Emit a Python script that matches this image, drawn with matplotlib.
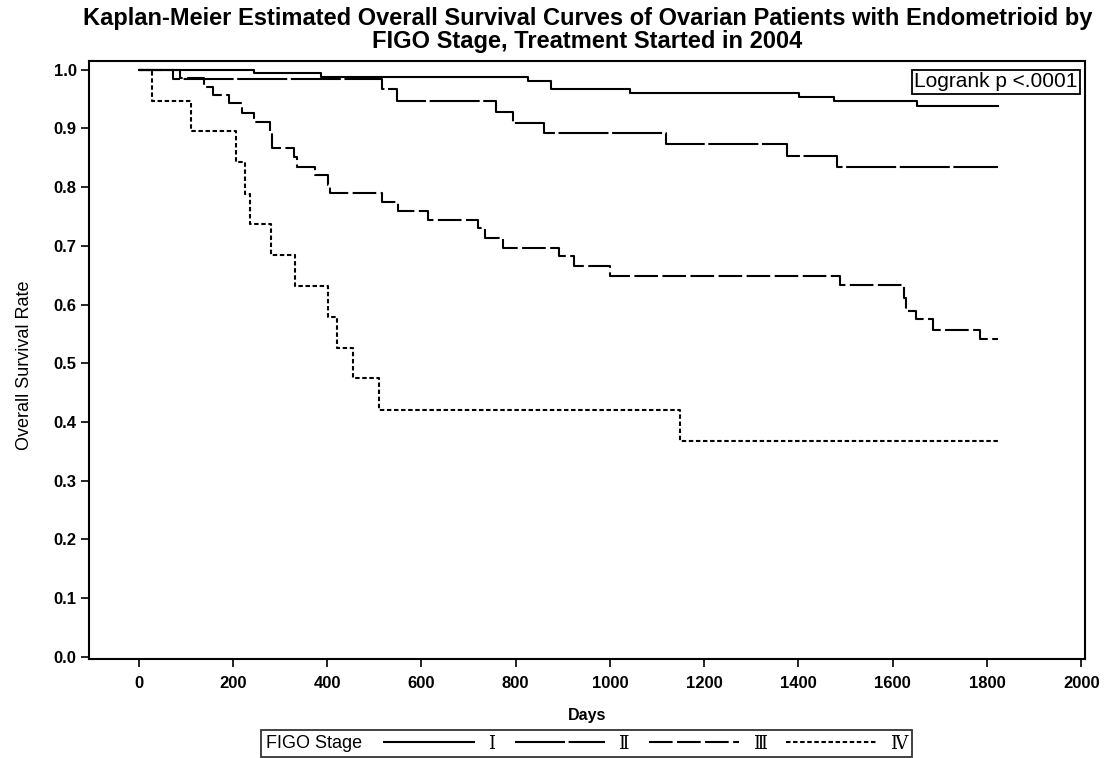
import matplotlib
matplotlib.use("Agg")
from matplotlib import pyplot as plt
from matplotlib.offsetbox import HPacker

plt.rcParams['font.family'] = ['Liberation Sans', 'DejaVu Sans']
plt.rcParams['lines.scale_dashes'] = False

# Kaplan-Meier step data (days at which survival changes, survival after step)
stage1_days = [0, 245, 387, 827, 875, 1043, 1401, 1475, 1652, 1824]
stage1_surv = [1.0, 0.994, 0.988, 0.981, 0.967, 0.961, 0.953, 0.946, 0.939, 0.939]

stage2_days = [0, 73, 516, 548, 759, 794, 860, 1119, 1376, 1481, 1824]
stage2_surv = [1.0, 0.985, 0.967, 0.947, 0.928, 0.910, 0.893, 0.873, 0.853, 0.834, 0.834]

stage3_days = [0, 88, 138, 159, 193, 219, 245, 278, 283, 329, 336, 375, 403, 407,
               516, 551, 615, 721, 734, 774, 891, 923, 1000, 1488, 1624, 1628,
               1649, 1685, 1785, 1824]
stage3_surv = [1.0, 0.986, 0.971, 0.957, 0.943, 0.926, 0.911, 0.896, 0.866, 0.852,
               0.835, 0.821, 0.804, 0.790, 0.775, 0.759, 0.744, 0.730, 0.714, 0.697,
               0.683, 0.666, 0.649, 0.633, 0.611, 0.589, 0.575, 0.557, 0.542, 0.542]

stage4_days = [0, 29, 111, 206, 226, 237, 281, 332, 403, 422, 455, 510, 1149, 1824]
stage4_surv = [1.0, 0.947, 0.895, 0.842, 0.789, 0.737, 0.684, 0.632, 0.579, 0.526,
               0.474, 0.421, 0.368, 0.368]

stage_labels = ['\u2160', '\u2161', '\u2162', '\u2163']
x_ticks = list(range(0, 2001, 200))
y_ticks = [i / 10 for i in range(11)]

fig = plt.figure(figsize=(11.1, 7.58), dpi=100)
ax = fig.add_axes([0.0802, 0.1302, 0.8973, 0.7893])

curves = []
for days, surv, dash, label in zip(
        [stage1_days, stage2_days, stage3_days, stage4_days],
        [stage1_surv, stage2_surv, stage3_surv, stage4_surv],
        [None, (36, 2.6), (17, 3.2), (3.2, 1.9)],
        stage_labels):
    line, = ax.step(days, surv, where='post', color='black', linewidth=1.5,
                    label=label)
    if dash is not None:
        line.set_dashes(dash)
    curves.append(line)

ax.set_xlim(-105, 2008)
ax.set_ylim(-0.0044, 1.0148)
ax.set_xticks(x_ticks)
ax.set_yticks(y_ticks)
ax.set_yticklabels(['%.1f' % v for v in y_ticks])
ax.tick_params(direction='out', length=6, width=1.2, labelsize=12)
ax.tick_params(axis='x', pad=6)
ax.tick_params(axis='y', pad=3)
for t in ax.get_xticklabels() + ax.get_yticklabels():
    t.set_fontweight('bold')
for s in ax.spines.values():
    s.set_linewidth(1.5)

ax.set_ylabel('Overall Survival Rate', fontsize=13)
ax.yaxis.set_label_coords(-0.056, 0.492)
ax.set_xlabel('Days', fontsize=11.5, fontweight='bold')
ax.xaxis.set_label_coords(0.5, -0.081)

fig.text(0.529, 0.9905,
         'Kaplan-Meier Estimated Overall Survival Curves of Ovarian Patients with Endometrioid by\n'
         'FIGO Stage, Treatment Started in 2004',
         ha='center', va='top', fontsize=17, fontweight='bold', linespacing=1.0)

ax.text(0.9925, 0.9816, 'Logrank p <.0001', transform=ax.transAxes,
        ha='right', va='top', fontsize=15,
        bbox=dict(boxstyle='square,pad=0.12', facecolor='white',
                  edgecolor='black', linewidth=1.3))

leg = ax.legend(curves, stage_labels, title='FIGO Stage', ncol=4,
                loc='lower center', bbox_to_anchor=(0.5285, 0.001),
                bbox_transform=fig.transFigure, fontsize=13, title_fontsize=13,
                frameon=True, fancybox=False, edgecolor='black',
                handlelength=5.0, handletextpad=0.75, columnspacing=1.1,
                borderpad=0.25, borderaxespad=0)
leg.get_frame().set_linewidth(1.3)
for t in leg.get_texts():
    t.set_family(['DejaVu Serif', 'Noto Sans CJK JP'])
# put the legend title on the left of the entries, SAS style
old_box = leg._legend_box
new_box = HPacker(pad=old_box.pad, sep=16, align='center',
                  children=[leg._legend_title_box, leg._legend_handle_box])
new_box.set_figure(fig)
new_box.axes = leg.axes
new_box.set_offset(leg._findoffset)
leg._legend_box = new_box

fig.savefig('out.png', dpi=100)
